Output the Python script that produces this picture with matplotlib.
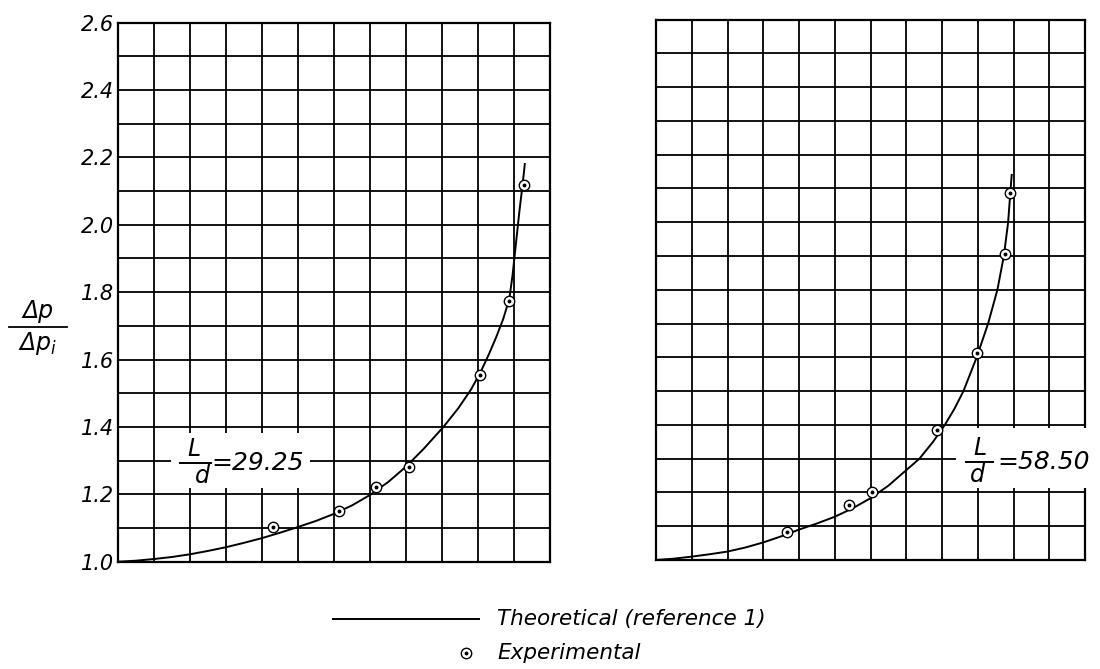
import matplotlib
matplotlib.use("Agg")
import matplotlib.pyplot as plt
from matplotlib.lines import Line2D
from matplotlib.patches import Rectangle

# ---------------- data ----------------
grid_cols = list(range(13))                      # vertical grid columns (0..12)
y_ticks = [1.0, 1.1, 1.2, 1.3, 1.4, 1.5, 1.6, 1.7, 1.8, 1.9,
           2.0, 2.1, 2.2, 2.3, 2.4, 2.5, 2.6]
y_tick_labels = ["1.0", "", "1.2", "", "1.4", "", "1.6", "", "1.8", "",
                 "2.0", "", "2.2", "", "2.4", "", "2.6"]

# Left panel, L/d = 29.25
theo_a_x = [0, 0.5, 1, 1.5, 2, 2.5, 3, 3.5, 4, 4.5, 5, 5.5, 6, 6.5, 7, 7.5, 8,
            8.5, 9.04, 9.45, 9.8, 10.06, 10.3, 10.5, 10.7, 10.87, 10.96, 11.05,
            11.15, 11.24, 11.30]
theo_a_y = [1.0, 1.003, 1.008, 1.014, 1.022, 1.032, 1.043, 1.056, 1.070, 1.086,
            1.103, 1.121, 1.142, 1.167, 1.198, 1.236, 1.282, 1.336, 1.40, 1.455,
            1.51, 1.56, 1.615, 1.665, 1.72, 1.78, 1.85, 1.94, 2.04, 2.12, 2.18]
exp_a_x = [4.31, 6.15, 7.18, 8.08, 10.06, 10.87, 11.28]
exp_a_y = [1.102, 1.151, 1.223, 1.282, 1.554, 1.775, 2.117]

# Right panel, L/d = 58.50
theo_b_x = [0, 0.5, 1, 1.5, 2, 2.5, 3, 3.5, 4, 4.5, 5, 5.5, 6, 6.5, 7, 7.37,
            7.75, 8.08, 8.35, 8.6, 8.97, 9.29, 9.55, 9.73, 9.85, 9.92, 9.95]
theo_b_y = [1.0, 1.004, 1.01, 1.017, 1.025, 1.037, 1.052, 1.07, 1.09, 1.108,
            1.128, 1.153, 1.183, 1.22, 1.266, 1.30, 1.35, 1.40, 1.448, 1.50,
            1.60, 1.70, 1.80, 1.90, 2.00, 2.10, 2.14]
exp_b_x = [3.67, 5.41, 6.03, 7.85, 8.99, 9.76, 9.90]
exp_b_y = [1.084, 1.163, 1.202, 1.385, 1.613, 1.905, 2.085]

label_a = "=29.25"
label_b = "=58.50"
legend_theo = "Theoretical (reference 1)"
legend_exp = "Experimental"

# ---------------- figure ----------------
plt.rcParams["font.family"] = ["DejaVu Sans"]
plt.rcParams["mathtext.fontset"] = "dejavusans"
FONT = dict(style="oblique", color="black")

fig = plt.figure(figsize=(11, 6.69), dpi=100)
ax1 = fig.add_axes([118 / 1100, 1 - 561.7 / 669, 432 / 1100, 539.2 / 669])
ax2 = fig.add_axes([656 / 1100, 1 - 560 / 669, 429 / 1100, 540.5 / 669])


def style_axes(ax):
    ax.set_xlim(0, 12)
    ax.set_ylim(1.0, 2.6)
    ax.set_xticks(grid_cols)
    ax.set_yticks(y_ticks)
    ax.set_xticklabels([])
    ax.grid(True, color="black", linewidth=1.3)
    ax.set_axisbelow(True)
    ax.tick_params(length=0)
    for s in ax.spines.values():
        s.set_linewidth(1.6)
        s.set_color("black")


style_axes(ax1)
style_axes(ax2)
ax1.set_yticklabels(y_tick_labels, fontsize=15, **FONT)
ax1.tick_params(axis="y", pad=3)
ax2.set_yticklabels([])


def draw_series(ax, tx, ty, ex, ey):
    ax.plot(tx, ty, color="black", linewidth=1.4, zorder=3)
    ax.plot(ex, ey, "o", ms=7.5, mfc="white", mec="black", mew=1.0, zorder=4)
    ax.plot(ex, ey, "o", ms=1.8, color="black", zorder=5)


draw_series(ax1, theo_a_x, theo_a_y, exp_a_x, exp_a_y)
draw_series(ax2, theo_b_x, theo_b_y, exp_b_x, exp_b_y)


def ld_label(ax, box, lx, dx, bar, ybar, tx, text):
    ax.add_patch(Rectangle((box[0], box[1]), box[2] - box[0], box[3] - box[1],
                           facecolor="white", edgecolor="none", zorder=6,
                           clip_on=False))
    ax.text(lx, ybar + 0.006, "L", ha="center", va="bottom", fontsize=17,
            zorder=7, clip_on=False, **FONT)
    ax.add_line(Line2D(bar, [ybar, ybar], color="black", linewidth=1.4,
                       zorder=7, clip_on=False))
    ax.text(dx, ybar - 0.004, "d", ha="center", va="top", fontsize=17,
            zorder=7, clip_on=False, **FONT)
    ax.text(tx, ybar, text, ha="left", va="center", fontsize=18,
            zorder=7, clip_on=False, **FONT)


ld_label(ax1, (1.47, 1.218, 5.33, 1.382), 2.12, 2.35, [1.72, 2.58], 1.294,
         2.6, label_a)
ld_label(ax2, (8.38, 1.213, 12.45, 1.39), 9.06, 9.0, [8.67, 9.43], 1.29,
         9.55, label_b)

# y-axis label  Δp / Δp_i
fig.text(38 / 1100, 1 - 323 / 669, "Δp", ha="center", va="bottom",
         fontsize=17, **FONT)
fig.add_artist(Line2D([9 / 1100, 67 / 1100], [1 - 326.7 / 669] * 2,
                      color="black", linewidth=1.3))
fig.text(38 / 1100, 1 - 330 / 669, "Δ$p_i$", ha="center", va="top",
         fontsize=17, **FONT)

# legend (drawn in figure coordinates)
y_l1 = 1 - 619 / 669
y_l2 = 1 - 653 / 669
fig.add_artist(Line2D([333 / 1100, 479 / 1100], [y_l1, y_l1],
                      color="black", linewidth=1.4))
fig.text(497 / 1100, y_l1, legend_theo, ha="left", va="center",
         fontsize=15.5, **FONT)
fig.add_artist(Line2D([466 / 1100], [y_l2], marker="o", ms=7.5, mfc="white",
                      mec="black", mew=1.0, linestyle="none"))
fig.add_artist(Line2D([466 / 1100], [y_l2], marker="o", ms=1.8,
                      color="black", linestyle="none"))
fig.text(497 / 1100, y_l2, legend_exp, ha="left", va="center",
         fontsize=15.5, **FONT)

fig.savefig("out.png", dpi=100)
